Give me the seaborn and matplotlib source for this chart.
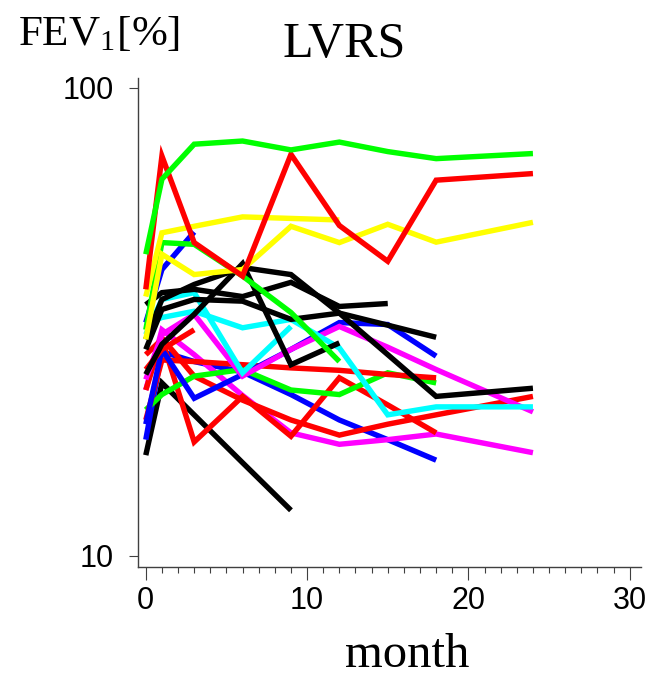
import matplotlib
matplotlib.use("Agg")
import matplotlib.pyplot as plt
from matplotlib.ticker import FixedLocator, MultipleLocator, NullLocator
import seaborn as sns
import pandas as pd

sns.set_style("white")
plt.rcParams["font.family"] = ["Liberation Sans", "DejaVu Sans"]
plt.rcParams["mathtext.fontset"] = "stix"
plt.rcParams["text.color"] = "black"

# ---- data (FEV1 % predicted vs months after LVRS) ----
months_all = [0, 1, 3, 6, 9, 12, 15, 18, 24]
m_to12 = [0, 1, 3, 6, 9, 12]
m_to15 = [0, 1, 3, 6, 9, 12, 15]
m_to18 = [0, 1, 3, 6, 9, 12, 15, 18]
m_to9 = [0, 1, 3, 6, 9]
m_to3 = [0, 1, 3]

green_1 = [44.1, 63.8, 75.8, 77.0, 73.7, 76.6, 73.1, 70.6, 72.4]
red_1 = [37.1, 71.5, 46.7, 39.6, 72.1, 50.8, 42.6, 63.5, 65.6]
yellow_1 = [35.8, 49.0, 50.6, 53.0, 52.6, 52.2]
yellow_2 = [29.0, 44.1, 39.9, 40.9, 50.6, 46.7, 51.1, 46.8, 51.6]
green_2 = [30.4, 46.7, 46.3, 39.6, 33.1, 26.0]
blue_1 = [31.5, 40.9, 49.2]
black_2 = [24.4, 28.3, 32.8, 42.1, 25.6, 28.5]
black_4 = [34.4, 36.5, 37.1, 35.8, 38.4, 34.1, 34.6]
black_5 = [29.0, 35.3, 38.0, 41.3, 39.9, 33.0, 26.9, 21.9, 22.8]
black_6 = [27.6, 33.6, 35.3, 35.0, 32.0, 33.0, 31.1, 29.3]
cyan_1 = [31.2, 32.3, 33.3, 30.7, 32.0, 27.8, 20.0, 20.8, 20.8]
cyan_2 = [29.7, 35.3, 36.5, 24.6, 30.9]
magenta_1 = [23.8, 29.7, 32.8, 24.2, 27.6, 30.9, 27.9, 25.0, 20.3]
magenta_2 = [22.6, 30.4, 26.9, 22.0, 18.3, 17.3, 17.7, 18.2, 16.6]
blue_2 = [19.1, 27.6, 21.7, 24.4, 27.6, 31.5, 31.2, 26.7]
blue_3 = [17.7, 27.3, 26.0, 24.7, 22.1, 19.5, 17.7, 16.0]
green_3 = [20.5, 22.1, 24.2, 25.0, 22.6, 22.1, 24.6, 23.4]
red_2 = [25.0, 27.6, 30.4]
red_3 = [19.5, 26.2, 26.0, 25.6, 25.2, 24.9, 24.4, 24.0]
red_4 = [26.9, 29.0, 17.5, 21.9, 18.0, 24.0, 21.0, 18.3]
red_5 = [22.6, 29.2, 24.2, 21.5, 19.5, 18.1, 19.1, 20.0, 21.9]
black_1 = [16.4, 23.4, 20.0, 15.8, 12.5]

patients = [
    ("K1", "#000000", m_to9, black_1),
    ("B3", "#0000ff", m_to18, blue_3),
    ("M2", "#ff00ff", months_all, magenta_2),
    ("R5", "#ff0000", months_all, red_5),
    ("R4", "#ff0000", m_to18, red_4),
    ("G3", "#00ff00", m_to18, green_3),
    ("R3", "#ff0000", m_to18, red_3),
    ("B2", "#0000ff", m_to18, blue_2),
    ("M1", "#ff00ff", months_all, magenta_1),
    ("C2", "#00ffff", m_to9, cyan_2),
    ("C1", "#00ffff", months_all, cyan_1),
    ("R2", "#ff0000", m_to3, red_2),
    ("K6", "#000000", m_to18, black_6),
    ("K5", "#000000", months_all, black_5),
    ("K4", "#000000", m_to15, black_4),
    ("K2", "#000000", m_to12, black_2),
    ("B1", "#0000ff", m_to3, blue_1),
    ("G2", "#00ff00", m_to12, green_2),
    ("Y2", "#ffff00", months_all, yellow_2),
    ("Y1", "#ffff00", m_to12, yellow_1),
    ("R1", "#ff0000", months_all, red_1),
    ("G1", "#00ff00", months_all, green_1),
]

rows = []
for pid, col, ms, vals in patients:
    for m, v in zip(ms, vals):
        rows.append({"patient": pid, "month": m, "fev1": v})
df = pd.DataFrame(rows)
palette = {pid: col for pid, col, _, _ in patients}

fig = plt.figure(figsize=(6.49, 6.79), dpi=100)
ax = fig.add_axes([0.2122, 0.1654, 0.9877 - 0.2122, 0.8851 - 0.1654])

sns.lineplot(data=df, x="month", y="fev1", hue="patient", units="patient",
             estimator=None, palette=palette, hue_order=[p[0] for p in patients],
             legend=False, linewidth=3.9, ax=ax, sort=True)
for ln in ax.get_lines():
    ln.set_solid_capstyle("butt")
    ln.set_solid_joinstyle("miter")

ax.set_yscale("log")
ax.set_ylim(9.47, 105)
ax.set_xlim(-0.5, 30.7)
ax.yaxis.set_major_locator(FixedLocator([10, 100]))
ax.yaxis.set_minor_locator(NullLocator())
ax.set_yticklabels(["10", "100"])
ax.xaxis.set_major_locator(FixedLocator([0, 10, 20, 30]))
ax.xaxis.set_minor_locator(MultipleLocator(1))
ax.set_xticklabels(["0", "10", "20", "30"])

for s in ["top", "right"]:
    ax.spines[s].set_visible(False)
for s in ["left", "bottom"]:
    ax.spines[s].set_color("#404040")
    ax.spines[s].set_linewidth(1.0)

ax.tick_params(axis="y", which="major", direction="out", length=6.5, width=0.8,
               color="#404040", labelcolor="black", labelsize=22, pad=11, left=True)
ax.tick_params(axis="x", which="major", direction="out", length=9, width=0.8,
               color="#404040", labelcolor="black", labelsize=22, pad=5, bottom=True)
ax.tick_params(axis="x", which="minor", direction="out", length=4.5, width=0.8,
               color="#404040", bottom=True)
ax.set_xlabel("")
ax.set_ylabel("")

serif = ["Liberation Serif", "DejaVu Serif"]
fig.text(18 / 649, 1 - 45 / 679, r"FEV$_{\mathregular{1}}$[%]", ha="left", va="baseline",
         fontsize=31, family=serif, color="black")
fig.text(344 / 649, 1 - 57 / 679, "LVRS", ha="center", va="baseline",
         fontsize=36, family=serif, color="black")
fig.text(407 / 649, 1 - 667 / 679, "month", ha="center", va="baseline",
         fontsize=35, family=serif, color="black")

fig.savefig("out.png", dpi=100)
